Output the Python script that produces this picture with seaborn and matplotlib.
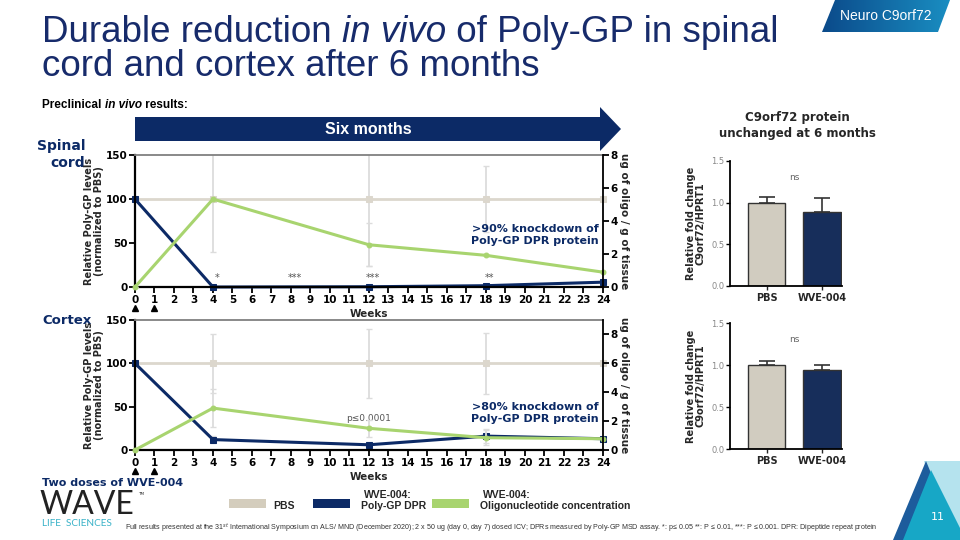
import numpy as np
import pandas as pd
import matplotlib.pyplot as plt
import seaborn as sns
from matplotlib.patches import Polygon, Rectangle
from matplotlib.colors import LinearSegmentedColormap
from matplotlib.transforms import blended_transform_factory

# -----------------------------
# DATA
# -----------------------------
weeks = [0, 4, 12, 18, 24]

# spinal cord
spinal_pbs = [100, 100, 100, 100, 100]
spinal_pbs_err = [0, 60, 76, 38, 0]
spinal_dpr = [100, 0, 0.3, 1.5, 5.5]
spinal_dpr_err = [0, 0, 0, 1, 0]
spinal_oligo = [0, 5.33, 2.56, 1.92, 0.9]        # ug oligo / g tissue
spinal_oligo_err = [0, 0, 1.3, 0, 0]
spinal_sig_weeks = [4, 8, 12, 18]
spinal_sig_labels = ["*", "***", "***", "**"]

# cortex
cortex_pbs = [100, 100, 100, 100, 100]
cortex_pbs_err = [0, 34, 40, 35, 0]
cortex_dpr = [100, 12, 6, 16, 13]
cortex_dpr_err = [0, 4, 3, 8, 0]
cortex_oligo = [0, 2.9, 1.5, 0.85, 0.78]
cortex_oligo_err = [0, 1.3, 0.6, 0.5, 0]

# C9orf72 protein bars
groups = ["PBS", "WVE-004"]
spinal_fold = [1.0, 0.89]
spinal_fold_err = [0.07, 0.16]
cortex_fold = [1.0, 0.94]
cortex_fold_err = [0.05, 0.06]

# -----------------------------
# STYLE
# -----------------------------
NAVY = "#0c2a66"
TITLE = "#172b6b"
BEIGE = "#d4cdbd"
PBS_LINE = "#dcd7cd"
GREEN = "#a8d46f"
TEAL = "#3ab2c8"
NARROW = ["Liberation Sans", "DejaVu Sans"]

sns.set_theme(style="ticks")
plt.rcParams["font.family"] = ["DejaVu Sans"]

fig = plt.figure(figsize=(9.6, 5.4), dpi=100)

# background axes in pixel coordinates for slide decoration
bg = fig.add_axes([0, 0, 1, 1])
bg.axis("off")


def rich_text(ax, x, y, parts, **kw):
    t = ax.text(x, y, parts[0][0], style=parts[0][1], va="baseline", **kw)
    for s, st in parts[1:]:
        t = ax.annotate(s, xy=(1, 0), xycoords=t, va="bottom", ha="left", style=st, **kw)
    return t


# title
rich_text(bg, 42, 42, [("Durable reduction ", "normal"), ("in vivo", "italic"),
                      (" of Poly-GP in spinal", "normal")],
          fontsize=26.5, color=TITLE, family=NARROW)
bg.text(42, 76, "cord and cortex after 6 months", fontsize=26.5, color=TITLE,
        family=NARROW, va="baseline")

# Neuro C9orf72 tag with gradient
grad = np.linspace(0, 1, 256).reshape(1, -1)
cmap = LinearSegmentedColormap.from_list("tag", ["#0b4a8a", "#1b93c6"])
im = bg.imshow(grad, extent=(822, 960, 32, 0), cmap=cmap, aspect="auto", zorder=1)
tag = Polygon([(835, 0), (950, 0), (938, 32), (822, 32)], closed=True,
              facecolor="none", edgecolor="none")
bg.add_patch(tag)
im.set_clip_path(tag)
bg.text(886, 16, "Neuro C9orf72", color="white", fontsize=10, family=NARROW,
        ha="center", va="center", zorder=2)

# subtitle
rich_text(bg, 42, 108, [("Preclinical ", "normal"), ("in vivo", "italic"), (" results:", "normal")],
          fontsize=8.5, fontweight="bold", color="black", family=NARROW)

# "Six months" arrow
bg.add_patch(Polygon([(135, 117), (600, 117), (600, 107), (621, 129), (600, 151),
                      (600, 141), (135, 141)], closed=True, facecolor=NAVY, edgecolor="none"))
bg.text(368, 130, "Six months", color="white", fontsize=11.5, fontweight="bold",
        family=NARROW, ha="center", va="center")

bg.text(797, 117, "C9orf72 protein", fontsize=8.5, fontweight="bold", ha="center", va="center")
bg.text(797, 133, "unchanged at 6 months", fontsize=8.5, fontweight="bold", ha="center", va="center")

bg.text(85, 146, "Spinal", color=NAVY, fontsize=10, fontweight="bold", ha="right", va="center")
bg.text(85, 163, "cord", color=NAVY, fontsize=10, fontweight="bold", ha="right", va="center")
bg.text(42, 320, "Cortex", color=NAVY, fontsize=9.5, fontweight="bold", ha="left", va="center")
bg.text(42, 483, "Two doses of WVE-004", color=NAVY, fontsize=8, fontweight="bold",
        ha="left", va="center")

# logo
bg.text(39, 514, "WAVE", fontsize=23, family=["Lato", "DejaVu Sans"], fontweight="normal",
        color="#222222", va="baseline")
bg.text(138, 495, "TM", fontsize=3, color="#222222")
bg.text(42, 524, "LIFE  SCIENCES", fontsize=7.2, color=TEAL, family=["Lato", "DejaVu Sans"],
        va="center")

# legend
legend_items = [(229, BEIGE, None, "PBS"), (313, NAVY, "WVE-004:", "Poly-GP DPR"),
                (432, GREEN, "WVE-004:", "Oligonucleotide concentration")]
for x0, col, head, lab in legend_items:
    bg.add_patch(Rectangle((x0, 499), 37, 9, facecolor=col, edgecolor="none"))
    bg.text(x0 + 44 if head is None else x0 + 48, 506, lab, fontsize=7.5, fontweight="bold",
            va="center", family=NARROW)
    if head:
        bg.text(x0 + 51, 495, head, fontsize=7.5, fontweight="bold", va="center", family=NARROW)

# footnote
bg.text(125, 528, "Full results presented at the 31$^{st}$ International Symposium on ALS/ MND "
        "(December 2020); 2 x 50 ug (day 0, day 7) dosed ICV; DPRs measured by Poly-GP MSD assay. "
        "*: p\u2264 0.05 **: P \u2264 0.01, ***: P \u2264 0.001. DPR: Dipeptide repeat protein",
        fontsize=5.1, family=NARROW, va="center", color="#333333")

# corner decoration
bg.add_patch(Polygon([(924, 461), (960, 461), (960, 540), (944, 540)], facecolor="#b5e3ee", edgecolor="none"))
bg.add_patch(Polygon([(893, 540), (926, 461), (940, 495), (920, 540)], facecolor="#1d5c9c", edgecolor="none"))
bg.add_patch(Polygon([(931, 470), (903, 540), (960, 540), (960, 528)], facecolor="#17a7c6", edgecolor="none"))
bg.text(938, 517, "11", color="white", fontsize=8, ha="center", va="center")

bg.set_xlim(0, 960)
bg.set_ylim(540, 0)


# -----------------------------
# LINE PANELS
# -----------------------------
def line_panel(rect, pbs, pbs_err, dpr, dpr_err, oligo, oligo_err, r_max):
    ax = fig.add_axes(rect)
    axr = ax.twinx()
    ax.errorbar(weeks, pbs, yerr=pbs_err, fmt="none", ecolor="#dcdcdc", elinewidth=1.3, capsize=2.5)
    ax.errorbar(weeks, dpr, yerr=dpr_err, fmt="none", ecolor="#dcdcdc", elinewidth=1.3, capsize=2.5)
    axr.errorbar(weeks, oligo, yerr=oligo_err, fmt="none", ecolor="#dcdcdc", elinewidth=1.3, capsize=2.5)
    sns.lineplot(x=weeks, y=pbs, ax=ax, color=PBS_LINE, lw=2, marker="s", ms=4,
                 mec=PBS_LINE, clip_on=False)
    sns.lineplot(x=weeks, y=dpr, ax=ax, color=NAVY, lw=2.2, marker="s", ms=4,
                 mec=NAVY, clip_on=False)
    sns.lineplot(x=weeks, y=oligo, ax=axr, color=GREEN, lw=2.2, marker="o", ms=3.5,
                 mec=GREEN, clip_on=False)

    ax.set_xlim(0, 24)
    ax.set_ylim(0, 150)
    axr.set_ylim(0, r_max)
    ax.set_xticks(range(25))
    ax.set_yticks([0, 50, 100, 150])
    axr.set_yticks([0, 2, 4, 6, 8])
    for a in (ax, axr):
        a.tick_params(labelsize=7.5, width=1.3, length=4, pad=1.5, colors="black")
        for lbl in a.get_xticklabels() + a.get_yticklabels():
            lbl.set_fontweight("bold")
    for s in ("left", "bottom"):
        ax.spines[s].set_linewidth(1.6)
        ax.spines[s].set_color("black")
    ax.spines["top"].set_visible(True)
    ax.spines["top"].set_color("#808080")
    ax.spines["top"].set_linewidth(1.3)
    ax.spines["right"].set_visible(False)
    for s in ("left", "bottom", "top"):
        axr.spines[s].set_visible(False)
    axr.spines["right"].set_linewidth(1.3)
    axr.spines["right"].set_color("black")

    ax.set_xlabel("Weeks", fontsize=7.5, fontweight="bold", labelpad=3)
    ax.set_ylabel("Relative Poly-GP levels\n(normalized to PBS)", fontsize=7, fontweight="bold",
                  labelpad=1, linespacing=1.0)
    axr.set_ylabel("ug of oligo / g of tissue", fontsize=7.5, fontweight="bold", rotation=270,
                   labelpad=8)

    # dosing triangles at day 0 and day 7
    tr = blended_transform_factory(ax.transData, ax.transAxes)
    ax.plot([0, 1], [-0.16, -0.16], transform=tr, ls="none", marker="^", ms=5,
            color="black", clip_on=False)
    return ax, axr


ax1, ax1r = line_panel([0.1406, 0.4685, 0.4875, 0.2444], spinal_pbs, spinal_pbs_err,
                       spinal_dpr, spinal_dpr_err, spinal_oligo, spinal_oligo_err, 8)
for w, s in zip(spinal_sig_weeks, spinal_sig_labels):
    ax1.text(w + 0.2, 5, s, fontsize=7, color="#555555", ha="center", va="bottom")
ax1.text(23.8, 59, ">90% knockdown of\nPoly-GP DPR protein", color=NAVY, fontsize=8,
         fontweight="bold", ha="right", va="center", linespacing=1.2)

ax2, ax2r = line_panel([0.1406, 0.1667, 0.4875, 0.2407], cortex_pbs, cortex_pbs_err,
                       cortex_dpr, cortex_dpr_err, cortex_oligo, cortex_oligo_err, 9)
ax2.text(12, 36, "p\u22640.0001", fontsize=6.5, color="#555555", ha="center", va="center")
ax2.text(23.8, 43, ">80% knockdown of\nPoly-GP DPR protein", color=NAVY, fontsize=8,
         fontweight="bold", ha="right", va="center", linespacing=1.2)


# -----------------------------
# BAR PANELS
# -----------------------------
def bar_panel(rect, vals, errs):
    ax = fig.add_axes(rect)
    df = pd.DataFrame({"group": groups, "fold": vals})
    sns.barplot(data=df, x="group", y="fold", hue="group", palette=[BEIGE, NAVY],
                legend=False, width=0.67, edgecolor="#333333", linewidth=1, ax=ax)
    ax.errorbar(range(len(vals)), vals, yerr=[[0] * len(errs), errs], fmt="none",
                ecolor="#333333", elinewidth=1.2, capsize=6, capthick=1.2)
    ax.set_xlim(-0.66, 1.36)
    ax.set_ylim(0, 1.5)
    ax.set_yticks([0, 0.5, 1.0, 1.5])
    ax.set_yticklabels(["0.0", "0.5", "1.0", "1.5"])
    ax.tick_params(axis="y", labelsize=6, width=1, length=3, pad=1,
                   labelcolor="#888888", color="black")
    ax.tick_params(axis="x", labelsize=7, width=1, length=3, pad=2)
    for lbl in ax.get_xticklabels():
        lbl.set_fontweight("bold")
    sns.despine(ax=ax)
    for s in ("left", "bottom"):
        ax.spines[s].set_linewidth(1.3)
        ax.spines[s].set_color("black")
    ax.set_xlabel("")
    ax.set_ylabel("Relative fold change\nC9orf72/HPRT1", fontsize=7, fontweight="bold",
                  labelpad=4, linespacing=1.0)
    ax.text(0.5, 1.3, "ns", fontsize=6.5, color="#666666", ha="center", va="center")
    return ax


bar_panel([0.7604, 0.4704, 0.1167, 0.2315], spinal_fold, spinal_fold_err)
bar_panel([0.7604, 0.1685, 0.1167, 0.2333], cortex_fold, cortex_fold_err)

plt.savefig("out.png", dpi=100)
